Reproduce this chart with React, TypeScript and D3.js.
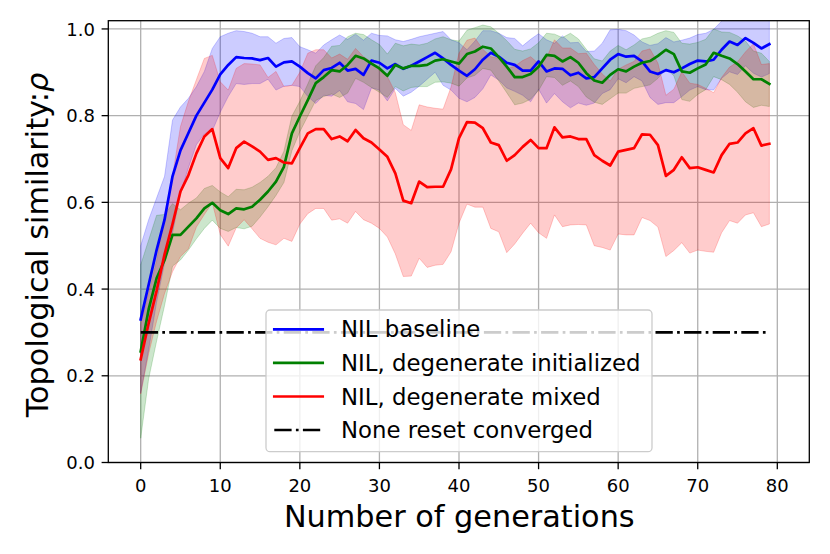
import React from 'react';
import * as d3 from 'd3';

// generations 0..79
const generations = d3.range(0, 80);

const baselineMean = [
  0.33, 0.41, 0.49, 0.56, 0.66, 0.72, 0.76, 0.8, 0.83, 0.86,
  0.895, 0.917, 0.935, 0.933, 0.932, 0.928, 0.933, 0.913, 0.923, 0.925,
  0.913, 0.898, 0.886, 0.905, 0.91, 0.922, 0.904, 0.908, 0.894, 0.927,
  0.922, 0.909, 0.919, 0.908, 0.915, 0.925, 0.935, 0.945, 0.932, 0.917,
  0.904, 0.892, 0.907, 0.929, 0.945, 0.936, 0.922, 0.917, 0.904, 0.904,
  0.925, 0.902, 0.909, 0.908, 0.893, 0.899, 0.886, 0.889, 0.909, 0.929,
  0.942, 0.936, 0.938, 0.925, 0.902, 0.896, 0.905, 0.9, 0.909, 0.919,
  0.927, 0.925, 0.929, 0.952, 0.971, 0.963, 0.979, 0.968, 0.955, 0.965,
];
const baselineStd = [
  0.17, 0.15, 0.12, 0.1, 0.13, 0.1, 0.08, 0.067, 0.072, 0.095,
  0.087, 0.073, 0.061, 0.061, 0.058, 0.054, 0.049, 0.054, 0.055, 0.055,
  0.046, 0.054, 0.058, 0.058, 0.065, 0.064, 0.072, 0.08, 0.08, 0.063,
  0.063, 0.075, 0.056, 0.063, 0.061, 0.057, 0.051, 0.045, 0.062, 0.058,
  0.064, 0.06, 0.065, 0.067, 0.051, 0.054, 0.058, 0.061, 0.057, 0.072,
  0.064, 0.073, 0.058, 0.076, 0.075, 0.07, 0.062, 0.06, 0.058, 0.069,
  0.057, 0.06, 0.048, 0.045, 0.06, 0.07, 0.075, 0.07, 0.065, 0.06,
  0.06, 0.065, 0.07, 0.066, 0.07, 0.068, 0.064, 0.07, 0.066, 0.068,
];

const initMean = [
  0.256, 0.353, 0.425, 0.467, 0.525, 0.525, 0.544, 0.563, 0.586, 0.599,
  0.582, 0.573, 0.586, 0.584, 0.59, 0.606, 0.625, 0.648, 0.682, 0.759,
  0.798, 0.836, 0.875, 0.889, 0.905, 0.902, 0.917, 0.938, 0.932, 0.92,
  0.909, 0.892, 0.917, 0.909, 0.915, 0.915, 0.917, 0.927, 0.93, 0.925,
  0.92, 0.942, 0.948, 0.959, 0.955, 0.935, 0.913, 0.889, 0.889, 0.896,
  0.913, 0.94, 0.938, 0.925, 0.935, 0.922, 0.898, 0.881, 0.876, 0.894,
  0.907, 0.902, 0.913, 0.922, 0.926, 0.938, 0.952, 0.942, 0.902, 0.899,
  0.909, 0.918, 0.945, 0.938, 0.932, 0.919, 0.902, 0.884, 0.884, 0.873,
];
const initStd = [
  0.2, 0.16, 0.145, 0.105, 0.072, 0.058, 0.054, 0.047, 0.046, 0.04,
  0.042, 0.04, 0.044, 0.045, 0.045, 0.04, 0.035, 0.032, 0.036, 0.04,
  0.035, 0.037, 0.04, 0.045, 0.055, 0.06, 0.065, 0.052, 0.055, 0.055,
  0.055, 0.05, 0.05, 0.052, 0.05, 0.048, 0.05, 0.05, 0.052, 0.05,
  0.052, 0.055, 0.055, 0.05, 0.05, 0.055, 0.06, 0.064, 0.06, 0.058,
  0.055, 0.05, 0.05, 0.055, 0.055, 0.055, 0.055, 0.05, 0.05, 0.055,
  0.055, 0.05, 0.05, 0.055, 0.055, 0.052, 0.044, 0.05, 0.065, 0.066,
  0.06, 0.058, 0.055, 0.055, 0.06, 0.065, 0.07, 0.065, 0.06, 0.052,
];

const mixedMean = [
  0.238, 0.321, 0.396, 0.48, 0.55, 0.625, 0.663, 0.713, 0.752, 0.769,
  0.702, 0.679, 0.725, 0.74, 0.729, 0.717, 0.698, 0.702, 0.692, 0.69,
  0.725, 0.759, 0.769, 0.769, 0.746, 0.752, 0.741, 0.767, 0.748, 0.738,
  0.722, 0.705, 0.667, 0.604, 0.598, 0.648, 0.635, 0.636, 0.636, 0.676,
  0.748, 0.785, 0.784, 0.771, 0.738, 0.732, 0.696, 0.709, 0.728, 0.744,
  0.725, 0.725, 0.773, 0.75, 0.752, 0.746, 0.746, 0.709, 0.696, 0.685,
  0.717, 0.721, 0.725, 0.757, 0.756, 0.732, 0.661, 0.675, 0.704, 0.679,
  0.681, 0.675, 0.669, 0.709, 0.735, 0.738, 0.759, 0.771, 0.731, 0.735,
];
const mixedStd = [
  0.08, 0.07, 0.07, 0.09, 0.11, 0.15, 0.17, 0.17, 0.18, 0.17,
  0.176, 0.18, 0.184, 0.18, 0.19, 0.2, 0.19, 0.2, 0.175, 0.18,
  0.175, 0.185, 0.183, 0.183, 0.187, 0.19, 0.189, 0.188, 0.188, 0.186,
  0.182, 0.185, 0.186, 0.175, 0.168, 0.177, 0.185, 0.181, 0.179, 0.19,
  0.196, 0.189, 0.195, 0.182, 0.198, 0.2, 0.212, 0.205, 0.199, 0.192,
  0.195, 0.208, 0.202, 0.206, 0.204, 0.197, 0.198, 0.209, 0.2, 0.195,
  0.19, 0.196, 0.2, 0.192, 0.198, 0.189, 0.186, 0.186, 0.197, 0.196,
  0.191, 0.188, 0.184, 0.179, 0.177, 0.186, 0.188, 0.195, 0.187, 0.185,
];

const resetConverged = 0.3;

const xTicks = [0, 10, 20, 30, 40, 50, 60, 70, 80];
const yTicks = [0, 0.2, 0.4, 0.6, 0.8, 1.0];

const series = [
  { label: 'NIL baseline', color: '#0000ff', mean: baselineMean, std: baselineStd },
  { label: 'NIL, degenerate initialized', color: '#008000', mean: initMean, std: initStd },
  { label: 'NIL, degenerate mixed', color: '#ff0000', mean: mixedMean, std: mixedStd },
];

const W = 830;
const H = 554;
const left = 108.3, right = 809.3, top = 20.7, bottom = 462.5;
const font = '"DejaVu Sans", sans-serif';

export default function App() {
  const x = d3.scaleLinear().domain([-4.07, 84.02]).range([left, right]);
  const y = d3.scaleLinear().domain([0, 1.019]).range([bottom, top]);

  const dashed = '17.3,4.3,2.7,4.3';

  return (
    <svg width={W} height={H} style={{ position: 'absolute', left: 0, top: 0, background: '#fff' }}
      fontFamily={font}>
      <defs>
        <clipPath id="plot">
          <rect x={left} y={top} width={right - left} height={bottom - top} />
        </clipPath>
      </defs>

      {/* grid */}
      <g stroke="#b0b0b0" strokeWidth={1.3}>
        {xTicks.map(t => <line key={'gx' + t} x1={x(t)} x2={x(t)} y1={top} y2={bottom} />)}
        {yTicks.map(t => <line key={'gy' + t} x1={left} x2={right} y1={y(t)} y2={y(t)} />)}
      </g>

      <g clipPath="url(#plot)">
        {series.map(s => {
          const area = d3.area<number>()
            .x(g => x(g))
            .y0((g, i) => y(s.mean[i] - s.std[i]))
            .y1((g, i) => y(s.mean[i] + s.std[i]));
          return (
            <path key={'a' + s.label} d={area(generations) || ''} fill={s.color} fillOpacity={0.2}
              stroke={s.color} strokeOpacity={0.2} strokeWidth={1} />
          );
        })}
        {series.map(s => {
          const line = d3.line<number>().x(g => x(g)).y((g, i) => y(s.mean[i]));
          return (
            <path key={'l' + s.label} d={line(generations) || ''} fill="none" stroke={s.color}
              strokeWidth={2.7} strokeLinejoin="round" strokeLinecap="square" />
          );
        })}
        <line x1={x(generations[0])} x2={x(generations[generations.length - 1])}
          y1={y(resetConverged)} y2={y(resetConverged)}
          stroke="#000" strokeWidth={2.7} strokeDasharray={dashed} />
      </g>

      {/* spines */}
      <rect x={left} y={top} width={right - left} height={bottom - top} fill="none" stroke="#000" strokeWidth={1.3} />

      {/* ticks */}
      <g stroke="#000" strokeWidth={1.3}>
        {xTicks.map(t => <line key={'tx' + t} x1={x(t)} x2={x(t)} y1={bottom} y2={bottom + 6.7} />)}
        {yTicks.map(t => <line key={'ty' + t} x1={left - 6.7} x2={left} y1={y(t)} y2={y(t)} />)}
      </g>
      <g fontSize={18} fill="#000">
        {xTicks.map(t => (
          <text key={'lx' + t} x={x(t)} y={492.3} textAnchor="middle">{t}</text>
        ))}
        {yTicks.map(t => (
          <text key={'ly' + t} x={95} y={y(t) + 6.6} textAnchor="end">{t.toFixed(1)}</text>
        ))}
      </g>

      <text x={(left + right) / 2 + 0.5} y={526.7} fontSize={30.3} textAnchor="middle">Number of generations</text>
      <text transform={`translate(48.3,${245}) rotate(-90)`} fontSize={30.3} textAnchor="middle">
        Topological similarity:<tspan fontStyle="italic">ρ</tspan>
      </text>

      {/* legend */}
      <g>
        <rect x={266} y={310} width={386} height={141.7} rx={4} fill="#fff" fillOpacity={0.8}
          stroke="#cccccc" strokeWidth={1.3} />
        {series.map((s, i) => {
          const ry = 329.3 + i * 33.6;
          return (
            <g key={'leg' + s.label}>
              <line x1={274.3} x2={322.7} y1={ry} y2={ry} stroke={s.color} strokeWidth={2.7} strokeLinecap="square" />
              <text x={341} y={ry + 8} fontSize={22.8}>{s.label}</text>
            </g>
          );
        })}
        <line x1={274.3} x2={322.7} y1={430} y2={430} stroke="#000" strokeWidth={2.7} strokeDasharray={dashed} />
        <text x={341} y={438} fontSize={22.8}>None reset converged</text>
      </g>
    </svg>
  );
}
